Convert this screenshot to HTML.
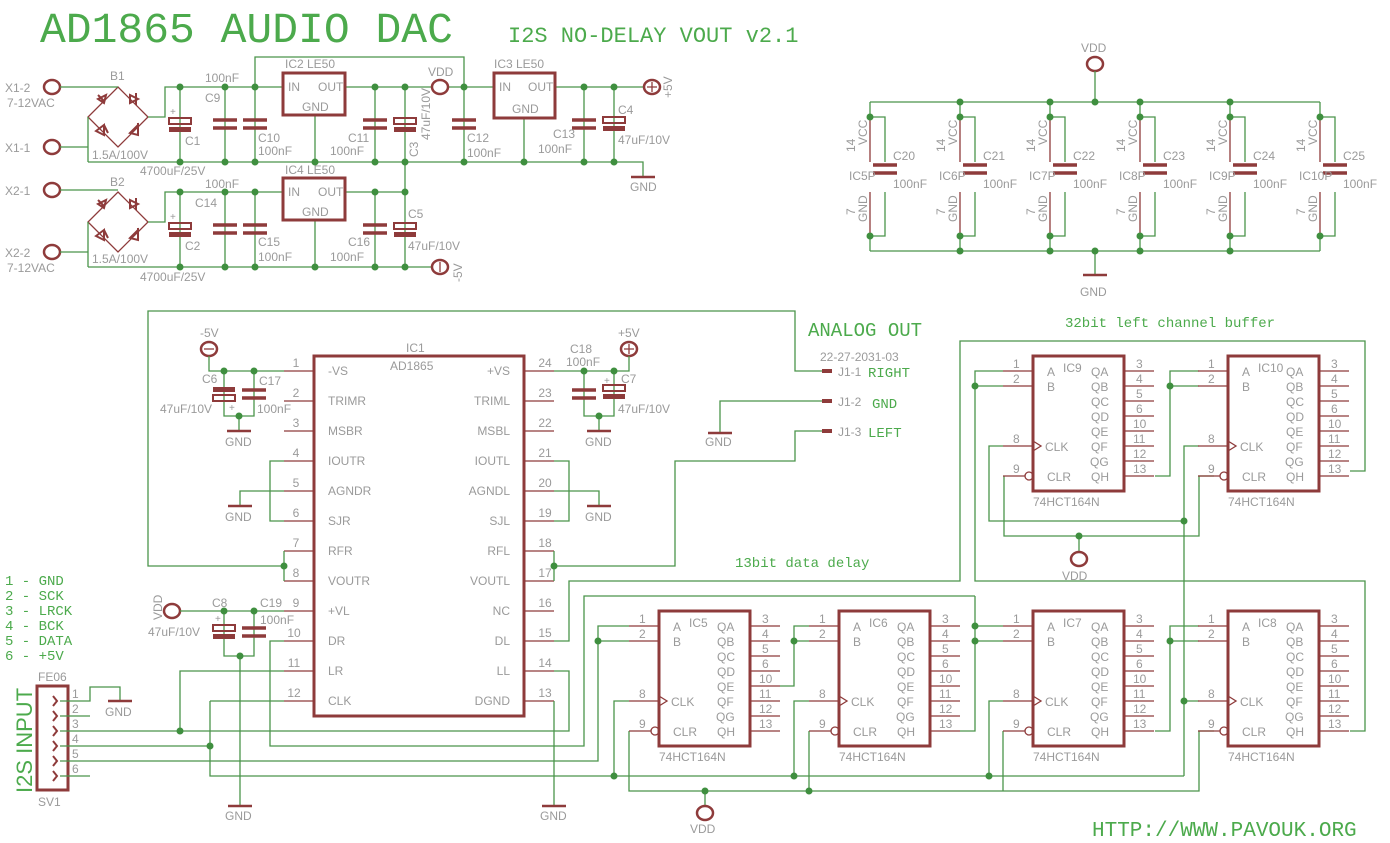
<!DOCTYPE html>
<html><head><meta charset="utf-8"><style>
html,body{margin:0;padding:0;background:#fff;}
svg{display:block;}
.w{stroke:#4a944a;stroke-width:1.3;fill:none;}
.s{stroke:#8e3b3b;stroke-width:1.3;fill:none;}
.b{stroke:#8e3b3b;stroke-width:3;fill:none;}
.p{stroke:#8e3b3b;stroke-width:3.5;fill:none;}
text{font-family:"Liberation Sans",sans-serif;font-size:12px;fill:#9a9a9a;}
.g{fill:#4caa4c;font-family:"Liberation Mono",monospace;}
.d{fill:#3f8f3f;}
</style></head><body>
<svg width="1390" height="843" viewBox="0 0 1390 843" xmlns="http://www.w3.org/2000/svg">
<defs>
<g id="chip">
<rect x="0" y="0" width="91" height="135" class="b"/>
<path class="s" d="M-30 15H0M-30 30H0M-30 90H0M-30 120H-8M91 15H121M91 30H121M91 45H121M91 60H121M91 75H121M91 90H121M91 105H121M91 120H121M0 85L8 90L0 95"/>
<circle cx="-4" cy="120" r="4" class="s"/>
</g>
<g id="gnd"><path class="s" d="M-12 0H12" style="stroke-width:2.5"/></g>
<g id="cap"><path class="p" d="M-12 -4H12M-12 4H12"/></g>
<g id="ecap"><rect x="-11" y="-7" width="22" height="6" class="s" style="stroke-width:2"/><rect x="-11" y="2" width="22" height="5" fill="#8e3b3b"/></g>
<g id="con"><ellipse cx="0" cy="0" rx="8" ry="7" class="s" style="stroke-width:2.5"/></g>
<g id="br">
<path class="s" d="M0 -30L30 0L0 30L-30 0Z"/>
<path class="s" d="M-20 -18l8 -4l-2 8zM-20 -22l6 6M12 -22l8 4l-8 4zM18 -24v12M-22 14l8 -6l0 10zM-14 8l4 8M12 16l8 -8l0 10zM20 6v12" style="stroke-width:2"/>
</g>
</defs>

<!-- titles -->
<text x="40" y="42" class="g" style="font-size:43px;">AD1865 AUDIO DAC</text>
<text x="508" y="42" class="g" style="font-size:22px;">I2S NO-DELAY VOUT v2.1</text>
<text x="1092" y="836" class="g" style="font-size:21px;">HTTP://WWW.PAVOUK.ORG</text>
<text x="808" y="336" class="g" style="font-size:19px;">ANALOG OUT</text>
<text x="735" y="567" class="g" style="font-size:14px;">13bit data delay</text>
<text x="1065" y="327" class="g" style="font-size:14px;">32bit left channel buffer</text>
<g class="g" style="font-size:14px;">
<text x="5" y="585" class="g" style="font-size:14px;">1 - GND</text>
<text x="5" y="600" class="g" style="font-size:14px;">2 - SCK</text>
<text x="5" y="615" class="g" style="font-size:14px;">3 - LRCK</text>
<text x="5" y="630" class="g" style="font-size:14px;">4 - BCK</text>
<text x="5" y="645" class="g" style="font-size:14px;">5 - DATA</text>
<text x="5" y="660" class="g" style="font-size:14px;">6 - +5V</text>
</g>
<text x="0" y="0" transform="translate(32,793) rotate(-90)" class="g" style="font-size:22px;font-family:'Liberation Sans',sans-serif;">I2S INPUT</text>

<!-- ========== POWER SUPPLY ========== -->
<use href="#con" x="52" y="87"/><use href="#con" x="52" y="147"/><use href="#con" x="52" y="190"/><use href="#con" x="52" y="252"/>
<text x="5" y="92">X1-2</text><text x="7" y="107">7-12VAC</text><text x="5" y="152">X1-1</text>
<text x="5" y="195">X2-1</text><text x="5" y="257">X2-2</text><text x="7" y="272">7-12VAC</text>
<use href="#br" x="118" y="117"/><use href="#br" x="118" y="222"/>
<text x="110" y="80">B1</text><text x="110" y="186">B2</text>
<text x="92" y="159">1.5A/100V</text><text x="92" y="263">1.5A/100V</text>
<path class="w" d="M60 87H118M60 147H88M88 117V162M148 117H165V87H283M60 190H118M60 252H88M88 222V267M148 222H165V192H283"/>
<path class="w" d="M88 162H643V177M88 267H432M180 87V162M225 87V162M255 87V162M180 192V267M225 192V267M255 192V267"/>
<path class="w" d="M315 115V162M315 220V267M345 87H432M345 192H405M375 87V162M405 87V267M375 192V267M255 87V57H464V162M448 87H494M555 87H643M584 87V162M614 87V162M524 118V162"/>
<use href="#gnd" x="643" y="177"/><text x="630" y="191">GND</text>
<!-- caps -->
<use href="#ecap" x="180" y="125"/><text x="170" y="115" style="font-size:10px">+</text>
<use href="#ecap" x="180" y="230"/><text x="170" y="220" style="font-size:10px">+</text>
<use href="#cap" x="225" y="124"/><use href="#cap" x="255" y="124"/><use href="#cap" x="225" y="229"/><use href="#cap" x="255" y="229"/>
<use href="#cap" x="375" y="124"/><use href="#ecap" x="405" y="125"/><use href="#cap" x="375" y="229"/><use href="#ecap" x="405" y="230"/>
<use href="#cap" x="464" y="124"/><use href="#cap" x="584" y="124"/><use href="#ecap" x="614" y="124"/>
<text x="185" y="145">C1</text><text x="140" y="175">4700uF/25V</text>
<text x="185" y="250">C2</text><text x="140" y="281">4700uF/25V</text>
<text x="205" y="82">100nF</text><text x="205" y="102">C9</text><text x="258" y="142">C10</text><text x="258" y="155">100nF</text>
<text x="205" y="188">100nF</text><text x="195" y="207">C14</text><text x="258" y="246">C15</text><text x="258" y="261">100nF</text>
<text x="348" y="142">C11</text><text x="330" y="155">100nF</text>
<text x="348" y="246">C16</text><text x="330" y="261">100nF</text>
<text x="0" y="0" transform="translate(418,157) rotate(-90)">C3</text><text x="0" y="0" transform="translate(430,140) rotate(-90)">47uF/10V</text>
<text x="408" y="218">C5</text><text x="408" y="250">47uF/10V</text>
<text x="467" y="142">C12</text><text x="467" y="157">100nF</text>
<text x="553" y="138">C13</text><text x="538" y="153">100nF</text>
<text x="618" y="114">C4</text><text x="618" y="144">47uF/10V</text>
<rect x="283" y="73" width="62" height="42" class="b"/><rect x="283" y="178" width="62" height="42" class="b"/><rect x="494" y="73" width="61" height="45" class="b"/>
<text x="285" y="68">IC2  LE50</text><text x="288" y="91">IN</text><text x="318" y="91">OUT</text><text x="302" y="111">GND</text>
<text x="285" y="174">IC4  LE50</text><text x="288" y="196">IN</text><text x="318" y="196">OUT</text><text x="302" y="216">GND</text>
<text x="494" y="68">IC3  LE50</text><text x="499" y="91">IN</text><text x="528" y="91">OUT</text><text x="512" y="113">GND</text>
<use href="#con" x="440" y="87"/><text x="428" y="76">VDD</text>
<use href="#con" x="440" y="267"/><path class="s" d="M440 262v10"/><text x="0" y="0" transform="translate(462,282) rotate(-90)">-5V</text>
<use href="#con" x="652" y="87"/><path class="s" d="M647 87h10M652 82v10"/><text x="0" y="0" transform="translate(672,98) rotate(-90)">+5V</text>
<g class="d">
<circle cx="180" cy="87" r="3.5"/><circle cx="225" cy="87" r="3.5"/><circle cx="255" cy="87" r="3.5"/><circle cx="375" cy="87" r="3.5"/><circle cx="405" cy="87" r="3.5"/><circle cx="464" cy="87" r="3.5"/><circle cx="584" cy="87" r="3.5"/><circle cx="614" cy="87" r="3.5"/>
<circle cx="180" cy="162" r="3.5"/><circle cx="225" cy="162" r="3.5"/><circle cx="255" cy="162" r="3.5"/><circle cx="315" cy="162" r="3.5"/><circle cx="375" cy="162" r="3.5"/><circle cx="405" cy="162" r="3.5"/><circle cx="464" cy="162" r="3.5"/><circle cx="524" cy="162" r="3.5"/><circle cx="584" cy="162" r="3.5"/><circle cx="614" cy="162" r="3.5"/>
<circle cx="180" cy="192" r="3.5"/><circle cx="225" cy="192" r="3.5"/><circle cx="255" cy="192" r="3.5"/><circle cx="375" cy="192" r="3.5"/><circle cx="405" cy="192" r="3.5"/>
<circle cx="180" cy="267" r="3.5"/><circle cx="225" cy="267" r="3.5"/><circle cx="255" cy="267" r="3.5"/><circle cx="315" cy="267" r="3.5"/><circle cx="375" cy="267" r="3.5"/><circle cx="405" cy="267" r="3.5"/>
</g>

<!-- ========== DECOUPLING (top right) ========== -->
<use href="#con" x="1095" y="64"/><text x="1081" y="52">VDD</text>
<path class="w" d="M1095 71V102M870 102H1320M870 251H1320M1095 251V275"/>
<use href="#gnd" x="1095" y="275"/><text x="1080" y="296">GND</text>
<g id="dec0">
<path class="w" d="M870 102V117H885V162M885 192V236H870V251"/>
<path class="s" d="M870 117V162M870 192V236"/>
<use href="#cap" x="885" y="169"/>
</g>
<use href="#dec0" x="90"/><use href="#dec0" x="180"/><use href="#dec0" x="270"/><use href="#dec0" x="360"/><use href="#dec0" x="450"/>
<g class="d">
<circle cx="870" cy="117" r="3.5"/><circle cx="960" cy="117" r="3.5"/><circle cx="1050" cy="117" r="3.5"/><circle cx="1140" cy="117" r="3.5"/><circle cx="1230" cy="117" r="3.5"/><circle cx="1320" cy="117" r="3.5"/>
<circle cx="870" cy="236" r="3.5"/><circle cx="960" cy="236" r="3.5"/><circle cx="1050" cy="236" r="3.5"/><circle cx="1140" cy="236" r="3.5"/><circle cx="1230" cy="236" r="3.5"/><circle cx="1320" cy="236" r="3.5"/>
<circle cx="960" cy="102" r="3.5"/><circle cx="1050" cy="102" r="3.5"/><circle cx="1095" cy="102" r="3.5"/><circle cx="1140" cy="102" r="3.5"/><circle cx="1230" cy="102" r="3.5"/>
<circle cx="960" cy="251" r="3.5"/><circle cx="1050" cy="251" r="3.5"/><circle cx="1095" cy="251" r="3.5"/><circle cx="1140" cy="251" r="3.5"/><circle cx="1230" cy="251" r="3.5"/>
</g>
<g>
<text transform="translate(855,152) rotate(-90)">14</text><text transform="translate(867,145) rotate(-90)">VCC</text><text transform="translate(855,215) rotate(-90)">7</text><text transform="translate(867,222) rotate(-90)">GND</text><text x="849" y="180">IC5P</text><text x="893" y="160">C20</text><text x="893" y="188">100nF</text>
<text transform="translate(945,152) rotate(-90)">14</text><text transform="translate(957,145) rotate(-90)">VCC</text><text transform="translate(945,215) rotate(-90)">7</text><text transform="translate(957,222) rotate(-90)">GND</text><text x="939" y="180">IC6P</text><text x="983" y="160">C21</text><text x="983" y="188">100nF</text>
<text transform="translate(1035,152) rotate(-90)">14</text><text transform="translate(1047,145) rotate(-90)">VCC</text><text transform="translate(1035,215) rotate(-90)">7</text><text transform="translate(1047,222) rotate(-90)">GND</text><text x="1029" y="180">IC7P</text><text x="1073" y="160">C22</text><text x="1073" y="188">100nF</text>
<text transform="translate(1125,152) rotate(-90)">14</text><text transform="translate(1137,145) rotate(-90)">VCC</text><text transform="translate(1125,215) rotate(-90)">7</text><text transform="translate(1137,222) rotate(-90)">GND</text><text x="1119" y="180">IC8P</text><text x="1163" y="160">C23</text><text x="1163" y="188">100nF</text>
<text transform="translate(1215,152) rotate(-90)">14</text><text transform="translate(1227,145) rotate(-90)">VCC</text><text transform="translate(1215,215) rotate(-90)">7</text><text transform="translate(1227,222) rotate(-90)">GND</text><text x="1209" y="180">IC9P</text><text x="1253" y="160">C24</text><text x="1253" y="188">100nF</text>
<text transform="translate(1305,152) rotate(-90)">14</text><text transform="translate(1317,145) rotate(-90)">VCC</text><text transform="translate(1305,215) rotate(-90)">7</text><text transform="translate(1317,222) rotate(-90)">GND</text><text x="1299" y="180">IC10P</text><text x="1343" y="160">C25</text><text x="1343" y="188">100nF</text>
</g>

<!-- ========== AD1865 ========== -->
<rect x="314" y="356" width="210" height="360" class="b"/>
<path class="s" d="M284 371H314M284 401H314M284 431H314M284 461H314M284 491H314M284 521H314M284 551H314M284 581H314M284 611H314M284 641H314M284 671H314M284 701H314M524 371H554M524 401H554M524 431H554M524 461H554M524 491H554M524 521H554M524 551H554M524 581H554M524 611H554M524 641H554M524 671H554M524 701H554"/>
<text x="406" y="352">IC1</text><text x="390" y="370">AD1865</text>
<g>
<text x="328" y="375">-VS</text><text x="328" y="405">TRIMR</text><text x="328" y="435">MSBR</text><text x="328" y="465">IOUTR</text><text x="328" y="495">AGNDR</text><text x="328" y="525">SJR</text><text x="328" y="555">RFR</text><text x="328" y="585">VOUTR</text><text x="328" y="615">+VL</text><text x="328" y="645">DR</text><text x="328" y="675">LR</text><text x="328" y="705">CLK</text>
</g>
<g text-anchor="end">
<text x="510" y="375">+VS</text><text x="510" y="405">TRIML</text><text x="510" y="435">MSBL</text><text x="510" y="465">IOUTL</text><text x="510" y="495">AGNDL</text><text x="510" y="525">SJL</text><text x="510" y="555">RFL</text><text x="510" y="585">VOUTL</text><text x="510" y="615">NC</text><text x="510" y="645">DL</text><text x="510" y="675">LL</text><text x="510" y="705">DGND</text>
</g>
<g text-anchor="middle">
<text x="296" y="367">1</text><text x="296" y="397">2</text><text x="296" y="427">3</text><text x="296" y="457">4</text><text x="296" y="487">5</text><text x="296" y="517">6</text><text x="296" y="547">7</text><text x="296" y="577">8</text><text x="296" y="607">9</text><text x="294" y="637">10</text><text x="294" y="667">11</text><text x="294" y="697">12</text>
<text x="545" y="367">24</text><text x="545" y="397">23</text><text x="545" y="427">22</text><text x="545" y="457">21</text><text x="545" y="487">20</text><text x="545" y="517">19</text><text x="545" y="547">18</text><text x="545" y="577">17</text><text x="545" y="607">16</text><text x="545" y="637">15</text><text x="545" y="667">14</text><text x="545" y="697">13</text>
</g>
<!-- -5V / +5V decoupling -->
<use href="#con" x="209" y="349"/><path class="s" d="M204 349h10"/><text x="200" y="337">-5V</text>
<use href="#con" x="629" y="349"/><path class="s" d="M624 349h10M629 344v10"/><text x="618" y="337">+5V</text>
<path class="w" d="M209 356V371H284M224 371V416H254V371M239 416V431M629 356V371H554M584 371V416H614V371M599 416V431"/>
<use href="#gnd" x="239" y="431"/><text x="225" y="446">GND</text>
<use href="#gnd" x="599" y="431"/><text x="585" y="446">GND</text>
<g transform="translate(224,394) rotate(180)"><use href="#ecap"/></g><text x="229" y="411" style="font-size:10px">+</text>
<use href="#cap" x="254" y="394"/><use href="#cap" x="584" y="394"/><use href="#ecap" x="614" y="392"/><text x="604" y="384" style="font-size:10px">+</text>
<text x="202" y="383">C6</text><text x="259" y="385">C17</text><text x="160" y="413">47uF/10V</text><text x="257" y="413">100nF</text>
<text x="570" y="353">C18</text><text x="566" y="366">100nF</text><text x="621" y="383">C7</text><text x="618" y="413">47uF/10V</text>
<!-- AGND / SJ -->
<path class="w" d="M284 461H270V521H284M284 491H240V506M554 461H569V521H554M554 491H599V506"/>
<use href="#gnd" x="240" y="506"/><text x="225" y="521">GND</text>
<use href="#gnd" x="599" y="506"/><text x="585" y="521">GND</text>
<!-- analog out -->
<path class="w" d="M284 551V581M284 566H148V311H795V371H822M822 401H720V433M822 431H795V461H675V566H554M554 551V581"/>
<use href="#gnd" x="720" y="433"/><text x="705" y="446">GND</text>
<path class="s" d="M822 371h10M822 401h10M822 431h10" style="stroke-width:4"/>
<text x="820" y="361">22-27-2031-03</text>
<text x="838" y="376">J1-1</text><text x="868" y="377" class="g" style="font-size:14px">RIGHT</text>
<text x="838" y="406">J1-2</text><text x="872" y="408" class="g" style="font-size:14px">GND</text>
<text x="838" y="436">J1-3</text><text x="868" y="437" class="g" style="font-size:14px">LEFT</text>
<!-- +VL -->
<use href="#con" x="172" y="611"/><text transform="translate(162,620) rotate(-90)">VDD</text>
<path class="w" d="M180 611H284M224 611V656H254V611M240 656V806"/>
<use href="#ecap" x="224" y="632"/><text x="215" y="622" style="font-size:10px">+</text><use href="#cap" x="254" y="632"/>
<text x="212" y="607">C8</text><text x="260" y="607">C19</text><text x="260" y="624">100nF</text><text x="148" y="636">47uF/10V</text>
<use href="#gnd" x="240" y="806"/><text x="225" y="820">GND</text>
<path class="w" d="M554 701V806"/><use href="#gnd" x="554" y="806"/><text x="540" y="820">GND</text>
<!-- SV1 -->
<rect x="37" y="686" width="31" height="104" class="b"/>
<path class="s" d="M53 696l4 5l-4 5M53 711l4 5l-4 5M53 726l4 5l-4 5M53 741l4 5l-4 5M53 756l4 5l-4 5M53 771l4 5l-4 5" style="stroke-width:2"/>
<text x="38" y="681">FE06</text><text x="38" y="806">SV1</text>
<g style="font-size:11px"><text x="72" y="698">1</text><text x="72" y="713">2</text><text x="72" y="728">3</text><text x="72" y="743">4</text><text x="72" y="758">5</text><text x="72" y="773">6</text></g>
<path class="w" d="M60 701H90V687H120V701M60 716H90M60 731H569V671H554M180 731V671H284M60 746H210M210 701H284M210 701V776H1184M60 761H598V626H629M598 641H629M60 776H90M284 641H270V746H584V596H975M554 641H569V581H960V341H1365V471H1350"/>
<use href="#gnd" x="120" y="701"/><text x="105" y="716">GND</text>
<!-- shift register wiring -->
<path class="w" d="M629 701H614V776M629 731V791H1199V731H1214M780 686H794V626H809M794 641H809M809 701H794V776M809 731V791M705 791V805M960 731H975V596M975 626H1003M975 641H1003M1003 701H989V776M1003 731V791M1155 731H1170V626H1199M1170 641H1199M1184 701H1199M1184 776V446H1199"/>
<path class="w" d="M1003 371H975V581H1365V731H1350M975 386H1003M1155 476H1170V371H1199M1170 386H1199M1003 446H989V521H1184M1004 476V536H1199V476H1214M1079 536V552"/>
<use href="#con" x="705" y="813"/><text x="690" y="833">VDD</text>
<use href="#con" x="1079" y="559"/><text x="1062" y="580">VDD</text>
<use href="#chip" x="659" y="611"/><use href="#chip" x="839" y="611"/><use href="#chip" x="1033" y="611"/><use href="#chip" x="1228" y="611"/><use href="#chip" x="1033" y="356"/><use href="#chip" x="1228" y="356"/>
<g class="d">
<circle cx="180" cy="731" r="3.5"/><circle cx="210" cy="746" r="3.5"/><circle cx="240" cy="656" r="3.5"/><circle cx="224" cy="611" r="3.5"/><circle cx="254" cy="611" r="3.5"/><circle cx="284" cy="566" r="3.5"/><circle cx="554" cy="566" r="3.5"/>
<circle cx="224" cy="371" r="3.5"/><circle cx="254" cy="371" r="3.5"/><circle cx="239" cy="416" r="3.5"/><circle cx="584" cy="371" r="3.5"/><circle cx="614" cy="371" r="3.5"/><circle cx="599" cy="416" r="3.5"/>
<circle cx="598" cy="641" r="3.5"/><circle cx="614" cy="776" r="3.5"/><circle cx="705" cy="791" r="3.5"/><circle cx="794" cy="641" r="3.5"/><circle cx="794" cy="776" r="3.5"/><circle cx="809" cy="791" r="3.5"/>
<circle cx="975" cy="626" r="3.5"/><circle cx="975" cy="641" r="3.5"/><circle cx="989" cy="776" r="3.5"/><circle cx="1170" cy="641" r="3.5"/><circle cx="1184" cy="701" r="3.5"/>
<circle cx="975" cy="386" r="3.5"/><circle cx="1170" cy="386" r="3.5"/><circle cx="1184" cy="521" r="3.5"/><circle cx="1079" cy="536" r="3.5"/>
</g>
<!-- chip labels -->
<g id="t5" transform="translate(659,611)">
<text x="-20" y="12">1</text><text x="-20" y="27">2</text><text x="-20" y="87">8</text><text x="-20" y="117">9</text>
<text x="103" y="12">3</text><text x="103" y="27">4</text><text x="103" y="42">5</text><text x="103" y="57">6</text><text x="100" y="72">10</text><text x="100" y="87">11</text><text x="100" y="102">12</text><text x="100" y="117">13</text>
<text x="14" y="20">A</text><text x="14" y="35">B</text><text x="12" y="95">CLK</text><text x="14" y="125">CLR</text><text x="30" y="16">IC5</text>
<text x="58" y="20">QA</text><text x="58" y="35">QB</text><text x="58" y="50">QC</text><text x="58" y="65">QD</text><text x="58" y="80">QE</text><text x="58" y="95">QF</text><text x="57" y="110">QG</text><text x="58" y="125">QH</text>
<text x="0" y="150">74HCT164N</text>
</g>
<g transform="translate(839,611)">
<text x="-20" y="12">1</text><text x="-20" y="27">2</text><text x="-20" y="87">8</text><text x="-20" y="117">9</text>
<text x="103" y="12">3</text><text x="103" y="27">4</text><text x="103" y="42">5</text><text x="103" y="57">6</text><text x="100" y="72">10</text><text x="100" y="87">11</text><text x="100" y="102">12</text><text x="100" y="117">13</text>
<text x="14" y="20">A</text><text x="14" y="35">B</text><text x="12" y="95">CLK</text><text x="14" y="125">CLR</text><text x="30" y="16">IC6</text>
<text x="58" y="20">QA</text><text x="58" y="35">QB</text><text x="58" y="50">QC</text><text x="58" y="65">QD</text><text x="58" y="80">QE</text><text x="58" y="95">QF</text><text x="57" y="110">QG</text><text x="58" y="125">QH</text>
<text x="0" y="150">74HCT164N</text>
</g>
<g transform="translate(1033,611)">
<text x="-20" y="12">1</text><text x="-20" y="27">2</text><text x="-20" y="87">8</text><text x="-20" y="117">9</text>
<text x="103" y="12">3</text><text x="103" y="27">4</text><text x="103" y="42">5</text><text x="103" y="57">6</text><text x="100" y="72">10</text><text x="100" y="87">11</text><text x="100" y="102">12</text><text x="100" y="117">13</text>
<text x="14" y="20">A</text><text x="14" y="35">B</text><text x="12" y="95">CLK</text><text x="14" y="125">CLR</text><text x="30" y="16">IC7</text>
<text x="58" y="20">QA</text><text x="58" y="35">QB</text><text x="58" y="50">QC</text><text x="58" y="65">QD</text><text x="58" y="80">QE</text><text x="58" y="95">QF</text><text x="57" y="110">QG</text><text x="58" y="125">QH</text>
<text x="0" y="150">74HCT164N</text>
</g>
<g transform="translate(1228,611)">
<text x="-20" y="12">1</text><text x="-20" y="27">2</text><text x="-20" y="87">8</text><text x="-20" y="117">9</text>
<text x="103" y="12">3</text><text x="103" y="27">4</text><text x="103" y="42">5</text><text x="103" y="57">6</text><text x="100" y="72">10</text><text x="100" y="87">11</text><text x="100" y="102">12</text><text x="100" y="117">13</text>
<text x="14" y="20">A</text><text x="14" y="35">B</text><text x="12" y="95">CLK</text><text x="14" y="125">CLR</text><text x="30" y="16">IC8</text>
<text x="58" y="20">QA</text><text x="58" y="35">QB</text><text x="58" y="50">QC</text><text x="58" y="65">QD</text><text x="58" y="80">QE</text><text x="58" y="95">QF</text><text x="57" y="110">QG</text><text x="58" y="125">QH</text>
<text x="0" y="150">74HCT164N</text>
</g>
<g transform="translate(1033,356)">
<text x="-20" y="12">1</text><text x="-20" y="27">2</text><text x="-20" y="87">8</text><text x="-20" y="117">9</text>
<text x="103" y="12">3</text><text x="103" y="27">4</text><text x="103" y="42">5</text><text x="103" y="57">6</text><text x="100" y="72">10</text><text x="100" y="87">11</text><text x="100" y="102">12</text><text x="100" y="117">13</text>
<text x="14" y="20">A</text><text x="14" y="35">B</text><text x="12" y="95">CLK</text><text x="14" y="125">CLR</text><text x="30" y="16">IC9</text>
<text x="58" y="20">QA</text><text x="58" y="35">QB</text><text x="58" y="50">QC</text><text x="58" y="65">QD</text><text x="58" y="80">QE</text><text x="58" y="95">QF</text><text x="57" y="110">QG</text><text x="58" y="125">QH</text>
<text x="0" y="150">74HCT164N</text>
</g>
<g transform="translate(1228,356)">
<text x="-20" y="12">1</text><text x="-20" y="27">2</text><text x="-20" y="87">8</text><text x="-20" y="117">9</text>
<text x="103" y="12">3</text><text x="103" y="27">4</text><text x="103" y="42">5</text><text x="103" y="57">6</text><text x="100" y="72">10</text><text x="100" y="87">11</text><text x="100" y="102">12</text><text x="100" y="117">13</text>
<text x="14" y="20">A</text><text x="14" y="35">B</text><text x="12" y="95">CLK</text><text x="14" y="125">CLR</text><text x="30" y="16">IC10</text>
<text x="58" y="20">QA</text><text x="58" y="35">QB</text><text x="58" y="50">QC</text><text x="58" y="65">QD</text><text x="58" y="80">QE</text><text x="58" y="95">QF</text><text x="57" y="110">QG</text><text x="58" y="125">QH</text>
<text x="0" y="150">74HCT164N</text>
</g>
</svg>
</body></html>
